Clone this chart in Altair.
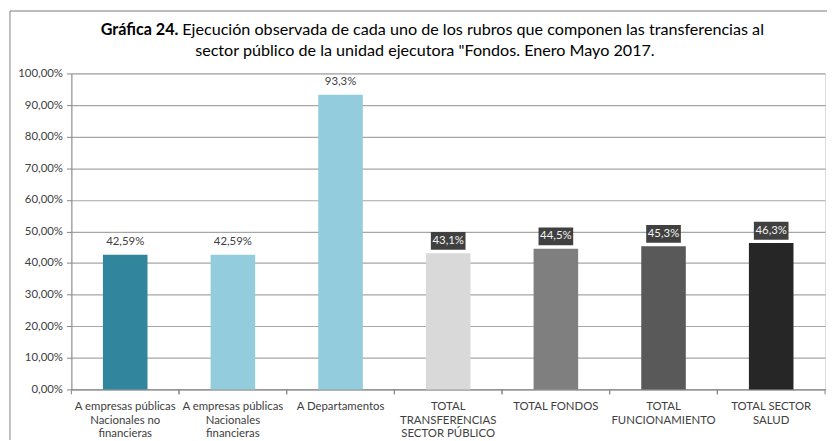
import altair as alt
import pandas as pd

categories = [
    "A empresas públicas|Nacionales no|financieras",
    "A empresas públicas|Nacionales|financieras",
    "A Departamentos",
    "TOTAL|TRANSFERENCIAS|SECTOR PÚBLICO",
    "TOTAL FONDOS",
    "TOTAL|FUNCIONAMIENTO",
    "TOTAL SECTOR|SALUD",
]
values = [42.59, 42.59, 93.3, 43.1, 44.5, 45.3, 46.3]
labels = ["42,59%", "42,59%", "93,3%", "43,1%", "44,5%", "45,3%", "46,3%"]
boxed = [False, False, False, True, True, True, True]
colors = ["#31859C", "#93CDDD", "#93CDDD", "#D9D9D9", "#7F7F7F", "#595959", "#262626"]
y_ticks = [0, 10, 20, 30, 40, 50, 60, 70, 80, 90, 100]

title_bold = ["Gráfica 24."]
title_rest = ["Ejecución observada de cada uno de los rubros que componen las transferencias al"]
title_line2 = ['sector público de la unidad ejecutora "Fondos. Enero Mayo 2017.']

df = pd.DataFrame({"cat": categories, "v": values, "lab": labels, "boxed": boxed})

FONT = "Lato"
W, H = 761, 319

x_axis = alt.Axis(
    labelExpr="split(datum.value, '|')",
    labelAngle=0,
    labelFont=FONT,
    labelFontSize=11.5,
    labelColor="#404040",
    labelPadding=11,
    labelLineHeight=14,
    labelOverlap=False,
    ticks=False,
    domainColor="#868686",
    grid=False,
)
y_axis = alt.Axis(
    values=y_ticks,
    labelExpr="replace(format(datum.value, '.2f'), '.', ',') + '%'",
    labelFont=FONT,
    labelFontSize=11.5,
    labelColor="#404040",
    labelPadding=4,
    labelOverlap=False,
    tickSize=5,
    tickColor="#868686",
    domainColor="#868686",
    gridColor="#A6A6A6",
    gridWidth=1.2,
)
x_scale = alt.Scale(paddingInner=0, paddingOuter=0)
y_scale = alt.Scale(domain=[0, 100], nice=False)


def X(**kw):
    return alt.X("cat:N", sort=categories, title=None, scale=x_scale, axis=x_axis, **kw)


def Y():
    return alt.Y("v:Q", scale=y_scale, title=None, axis=y_axis)


base = alt.Chart(df)

bars = base.mark_bar(size=45).encode(
    x=X(),
    y=Y(),
    color=alt.Color("cat:N", sort=categories, scale=alt.Scale(domain=categories, range=colors), legend=None),
)

boxes = base.transform_filter("datum.boxed").mark_bar(
    size=35, color="#404040", yOffset=-3.5, y2Offset=-21.5
).encode(x=X(), y=Y(), y2=alt.Y2("v"))

text_plain = base.transform_filter("!datum.boxed").mark_text(
    font=FONT, fontSize=11.5, color="#404040", baseline="middle", dy=-12.5
).encode(x=X(), y=Y(), text="lab:N")

text_boxed = base.transform_filter("datum.boxed").mark_text(
    font=FONT, fontSize=11.5, color="#F2F2F2", baseline="middle", dy=-12.5
).encode(x=X(), y=Y(), text="lab:N")

tick_df = pd.DataFrame({"cat": categories})
ticks0 = alt.Chart(tick_df).mark_rule(color="#868686").encode(
    x=X(bandPosition=0), y=alt.value(H), y2=alt.value(H + 5)
)
ticks1 = alt.Chart(tick_df).mark_rule(color="#868686").encode(
    x=X(bandPosition=1), y=alt.value(H), y2=alt.value(H + 5)
)

TS = 16.3
t1 = alt.Chart(pd.DataFrame({"t": title_bold})).mark_text(
    font=FONT, fontSize=TS, fontWeight="bold", align="right", baseline="middle", color="#000000"
).encode(text="t:N", x=alt.value(108), y=alt.value(-44))
t2 = alt.Chart(pd.DataFrame({"t": title_rest})).mark_text(
    font=FONT, fontSize=TS, align="left", baseline="middle", color="#000000"
).encode(text="t:N", x=alt.value(112), y=alt.value(-44))
t3 = alt.Chart(pd.DataFrame({"t": title_line2})).mark_text(
    font=FONT, fontSize=TS, align="center", baseline="middle", color="#000000"
).encode(text="t:N", x=alt.value(357), y=alt.value(-23))

border_top = alt.Chart(pd.DataFrame({"t": [0]})).mark_rule(color="#A6A6A6", strokeWidth=1.5).encode(
    x=alt.value(-62), x2=alt.value(W + 10), y=alt.value(-63)
)
border_left = alt.Chart(pd.DataFrame({"t": [0]})).mark_rule(color="#808080", strokeWidth=1).encode(
    x=alt.value(-62), y=alt.value(-63), y2=alt.value(H + 60)
)

chart = alt.layer(
    bars, boxes, text_plain, text_boxed, ticks0, ticks1, t1, t2, t3, border_top, border_left
).properties(
    width=W,
    height=H,
    autosize=alt.AutoSizeParams(type="none"),
    padding={"left": 64, "top": 64, "right": 2, "bottom": 49},
).configure_view(stroke=None).configure(background="white")

chart.save("out.html", embed_options={"renderer": "svg", "actions": False})
